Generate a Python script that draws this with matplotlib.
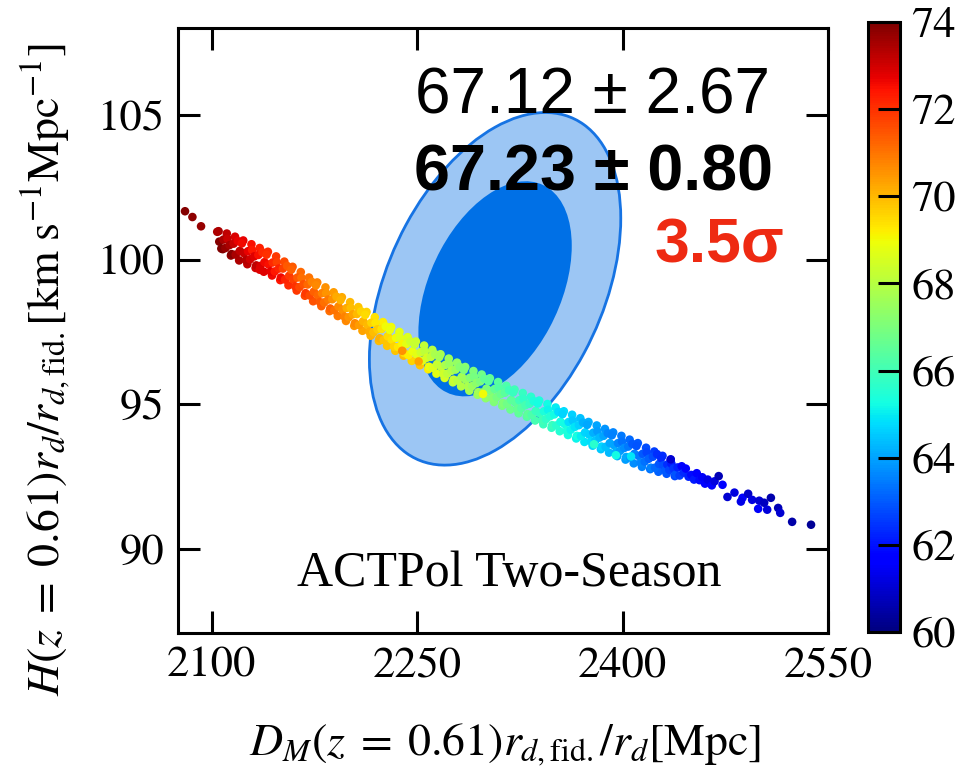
import numpy as np
import matplotlib
matplotlib.use("Agg")
import matplotlib.pyplot as plt
from matplotlib.patches import Ellipse

plt.rcParams['mathtext.fontset'] = 'stix'
plt.rcParams['font.family'] = ['STIXGeneral', 'DejaVu Serif']

# ---------------- data ----------------
# scatter samples, band core: D_M r_fid/r_d, H r_d/r_fid, H0 colour
dm = [2080.5, 2085.9, 2092.2,
      2104.0, 2105.5, 2107.0, 2108.5, 2110.0, 2111.5, 2113.0, 2114.5, 2116.0, 2117.5, 2119.0, 2120.5,
      2122.0, 2123.5, 2125.0, 2126.5, 2128.0, 2129.5, 2131.0, 2132.5, 2134.0, 2135.5, 2137.0, 2138.5,
      2140.0, 2141.5, 2143.0, 2144.5, 2146.0, 2147.5, 2149.0, 2150.5, 2152.0, 2153.5, 2155.0, 2156.5,
      2158.0, 2159.5, 2161.0, 2162.5, 2164.0, 2165.5, 2167.0, 2168.5, 2170.0, 2171.5, 2173.0, 2174.5,
      2176.0, 2177.5, 2179.0, 2180.5, 2182.0, 2183.5, 2185.0, 2186.5, 2188.0, 2189.5, 2191.0, 2192.5,
      2194.0, 2195.5, 2197.0, 2198.5, 2200.0, 2201.5, 2203.0, 2204.5, 2206.0, 2207.5, 2209.0, 2210.5,
      2212.0, 2213.5, 2215.0, 2216.5, 2218.0, 2219.5, 2221.0, 2222.5, 2224.0, 2225.5, 2227.0, 2228.5,
      2230.0, 2231.5, 2233.0, 2234.5, 2236.0, 2237.5, 2239.0, 2240.5, 2242.0, 2243.5, 2245.0, 2246.5,
      2248.0, 2249.5, 2251.0, 2252.5, 2254.0, 2255.5, 2257.0, 2258.5, 2260.0, 2261.5, 2263.0, 2264.5,
      2266.0, 2267.5, 2269.0, 2270.5, 2272.0, 2273.5, 2275.0, 2276.5, 2278.0, 2279.5, 2281.0, 2282.5,
      2284.0, 2285.5, 2287.0, 2288.5, 2290.0, 2291.5, 2293.0, 2294.5, 2296.0, 2297.5, 2299.0, 2300.5,
      2302.0, 2303.5, 2305.0, 2306.5, 2308.0, 2309.5, 2311.0, 2312.5, 2314.0, 2315.5, 2317.0, 2318.5,
      2320.0, 2321.5, 2323.0, 2324.5, 2326.0, 2327.5, 2329.0, 2330.5, 2332.0, 2333.5, 2335.0, 2336.5,
      2338.0, 2339.5, 2341.0, 2342.5, 2344.0, 2345.5, 2347.0, 2348.5, 2350.0, 2351.5, 2353.0, 2354.5,
      2356.0, 2357.5, 2359.0, 2360.5, 2362.0, 2363.5, 2365.0, 2366.5, 2368.0, 2369.5, 2371.0, 2372.5,
      2374.0, 2375.5, 2377.0, 2378.5, 2380.0, 2381.5, 2383.0, 2384.5, 2386.0, 2387.5, 2389.0, 2390.5,
      2392.0, 2393.5, 2395.0, 2396.5, 2398.0, 2399.5, 2401.0, 2402.5, 2404.0, 2405.5, 2407.0, 2408.5,
      2410.0, 2411.5, 2413.0, 2414.5, 2416.0, 2417.5, 2419.0, 2420.5, 2422.0, 2423.5, 2425.0, 2426.5,
      2428.0, 2429.5, 2431.0, 2432.5, 2434.0, 2435.5, 2437.0, 2438.5, 2440.0, 2441.5, 2443.0, 2444.5,
      2446.0, 2448.0, 2450.0, 2452.0, 2454.0, 2456.0, 2458.0, 2460.0, 2462.0, 2465.0, 2467.0,
      2135.0, 2239.0, 2251.0, 2298.0, 2379.0, 2395.0, 2406.0, 2435.0, 2470.0,
      2472.8, 2476.4, 2481.5, 2487.4, 2486.2, 2491.5, 2494.4, 2499.6, 2498.8, 2503.2, 2505.4, 2508.1,
      2513.4, 2514.9, 2523.6, 2537.4]
hz = [101.67, 101.47, 101.15,
      100.96, 100.62, 100.38, 100.69, 100.40, 100.72, 100.50, 100.19, 100.55, 100.17, 100.64, 100.30,
      100.56, 100.22, 99.98, 100.29, 100.01, 100.33, 100.11, 99.80, 100.16, 99.78, 100.25, 99.91,
      100.17, 99.83, 99.59, 99.90, 99.59, 99.91, 99.69, 99.38, 99.69, 99.31, 99.78, 99.44,
      99.65, 99.31, 99.07, 99.38, 99.05, 99.37, 99.15, 98.84, 99.14, 98.76, 99.23, 98.89,
      99.11, 98.77, 98.53, 98.84, 98.52, 98.84, 98.62, 98.31, 98.63, 98.25, 98.72, 98.38,
      98.60, 98.26, 98.02, 98.33, 98.01, 98.33, 98.11, 97.80, 98.12, 97.74, 98.21, 97.87,
      98.09, 97.75, 97.51, 97.82, 97.49, 97.81, 97.59, 97.28, 97.60, 97.22, 97.69, 97.35,
      97.57, 97.23, 96.99, 97.30, 96.98, 97.30, 97.08, 96.77, 97.08, 96.70, 97.17, 96.83,
      97.07, 96.73, 96.49, 96.80, 96.51, 96.83, 96.61, 96.30, 96.64, 96.26, 96.73, 96.39,
      96.63, 96.29, 96.05, 96.36, 96.06, 96.38, 96.16, 95.85, 96.20, 95.82, 96.29, 95.95,
      96.19, 95.85, 95.61, 95.92, 95.63, 95.95, 95.73, 95.42, 95.79, 95.41, 95.88, 95.54,
      95.80, 95.46, 95.22, 95.53, 95.25, 95.57, 95.35, 95.04, 95.40, 95.02, 95.49, 95.15,
      95.41, 95.07, 94.83, 95.14, 94.87, 95.19, 94.97, 94.66, 95.02, 94.64, 95.11, 94.77,
      95.03, 94.69, 94.45, 94.76, 94.49, 94.81, 94.59, 94.28, 94.65, 94.27, 94.74, 94.40,
      94.66, 94.32, 94.08, 94.39, 94.12, 94.44, 94.22, 93.91, 94.28, 93.90, 94.37, 94.03,
      94.29, 93.95, 93.71, 94.02, 93.75, 94.07, 93.85, 93.54, 93.91, 93.53, 94.00, 93.66,
      93.93, 93.59, 93.35, 93.66, 93.39, 93.71, 93.49, 93.18, 93.54, 93.16, 93.63, 93.29,
      93.56, 93.22, 92.98, 93.29, 93.02, 93.34, 93.12, 92.81, 93.19, 92.81, 93.28, 92.94,
      93.14, 92.89, 92.71, 92.92, 92.73, 92.95, 92.78, 92.57, 92.82, 92.54, 92.86, 92.64,
      92.78, 92.50, 92.56, 92.40, 92.62, 92.38, 92.48, 92.26, 92.40, 92.20, 92.34,
      99.65, 96.85, 96.48, 95.36, 93.62, 93.24, 93.20, 93.10, 92.52,
      92.22, 91.80, 91.95, 91.77, 91.64, 91.91, 91.70, 91.67, 91.39, 91.60, 91.36, 91.77,
      91.42, 91.25, 90.94, 90.84]
h0 = [73.9, 73.8, 73.7,
      73.4, 73.9, 74.0, 73.5, 73.7, 73.1, 73.5, 73.9, 73.1, 73.5, 72.7, 73.2,
      72.6, 73.1, 73.3, 72.7, 73.0, 72.4, 72.8, 73.2, 72.5, 72.9, 72.1, 72.6,
      72.0, 72.5, 72.7, 72.1, 72.4, 71.8, 72.2, 72.6, 71.8, 72.2, 71.4, 71.9,
      71.3, 71.8, 72.0, 71.4, 71.7, 71.1, 71.5, 71.9, 71.2, 71.6, 70.8, 71.3,
      70.7, 71.2, 71.4, 70.8, 71.1, 70.5, 70.9, 71.3, 70.6, 71.0, 70.2, 70.7,
      70.1, 70.6, 70.8, 70.2, 70.5, 69.9, 70.3, 70.7, 70.0, 70.4, 69.6, 70.1,
      69.5, 70.0, 70.2, 69.6, 69.9, 69.3, 69.7, 70.1, 69.4, 69.8, 69.0, 69.5,
      68.9, 69.4, 69.6, 69.0, 69.3, 68.7, 69.1, 69.5, 68.8, 69.2, 68.4, 68.9,
      68.3, 68.8, 69.0, 68.4, 68.7, 68.1, 68.5, 68.9, 68.2, 68.6, 67.8, 68.3,
      67.7, 68.2, 68.4, 67.8, 68.1, 67.5, 67.9, 68.3, 67.6, 68.0, 67.2, 67.7,
      67.1, 67.6, 67.8, 67.2, 67.5, 66.9, 67.3, 67.7, 67.0, 67.4, 66.6, 67.1,
      66.5, 67.0, 67.2, 66.6, 66.9, 66.3, 66.7, 67.1, 66.4, 66.8, 66.0, 66.5,
      65.9, 66.4, 66.6, 66.0, 66.3, 65.7, 66.1, 66.5, 65.8, 66.2, 65.4, 65.9,
      65.3, 65.8, 66.0, 65.4, 65.7, 65.1, 65.5, 65.9, 65.2, 65.6, 64.8, 65.3,
      64.7, 65.2, 65.4, 64.8, 65.1, 64.5, 64.9, 65.3, 64.6, 65.0, 64.2, 64.7,
      64.1, 64.6, 64.8, 64.2, 64.5, 63.9, 64.3, 64.7, 64.0, 64.4, 63.6, 64.1,
      63.5, 64.0, 64.2, 63.6, 63.9, 63.3, 63.7, 64.1, 63.4, 63.8, 63.0, 63.5,
      62.9, 63.4, 63.6, 63.0, 63.3, 62.7, 63.1, 63.5, 62.8, 63.2, 62.4, 62.9,
      62.3, 62.8, 63.0, 62.4, 62.7, 62.1, 62.5, 62.9, 62.2, 62.6, 61.8, 62.3,
      61.7, 62.2, 61.9, 62.1, 61.6, 61.9, 61.5, 61.8, 61.3, 61.6, 61.2,
      72.8, 70.6, 70.3, 69.0, 65.6, 65.2, 64.9, 61.0, 60.7,
      61.6, 61.0, 61.2, 61.6, 61.3, 60.9, 61.2, 61.0, 61.5, 60.8, 61.1, 60.6,
      60.7, 61.0, 60.5, 60.3]

# scatter samples on the upper and lower edges of the band
dm_edge = [2105, 2108, 2111, 2114, 2117, 2120, 2123, 2126, 2129, 2132, 2135, 2138, 2141, 2144,
           2147, 2150, 2153, 2156, 2159, 2162, 2165, 2168, 2171, 2174, 2177, 2180, 2183, 2186,
           2189, 2192, 2195, 2198, 2201, 2204, 2207, 2210, 2213, 2216, 2219, 2222, 2225, 2228,
           2231, 2234, 2237, 2240, 2243, 2246, 2249, 2252, 2255, 2258, 2261, 2264, 2267, 2270,
           2273, 2276, 2279, 2282, 2285, 2288, 2291, 2294, 2297, 2300, 2303, 2306, 2309, 2312,
           2315, 2318, 2321, 2324, 2327, 2330, 2333, 2336, 2339, 2342, 2345, 2348, 2351, 2354,
           2357, 2360, 2363, 2366, 2369, 2372, 2375, 2378, 2381, 2384, 2387, 2390, 2393, 2396,
           2399, 2402, 2405, 2408, 2411, 2414, 2417, 2420, 2423, 2426, 2429, 2432, 2435, 2438]
hz_edge = [100.98, 100.36, 100.90, 100.14, 100.79, 99.97, 100.66, 99.84, 100.53, 99.71,
           100.40, 99.58, 100.27, 99.45, 100.11, 99.29, 99.93, 99.11, 99.75, 98.93,
           99.57, 98.75, 99.38, 98.56, 99.21, 98.39, 99.04, 98.22, 98.87, 98.05,
           98.70, 97.88, 98.53, 97.71, 98.36, 97.54, 98.19, 97.37, 98.01, 97.19,
           97.84, 97.02, 97.67, 96.85, 97.50, 96.68, 97.32, 96.50, 97.17, 96.35,
           97.03, 96.21, 96.88, 96.06, 96.73, 95.91, 96.58, 95.76, 96.44, 95.62,
           96.29, 95.47, 96.15, 95.33, 96.03, 95.21, 95.90, 95.08, 95.77, 94.95,
           95.64, 94.82, 95.51, 94.69, 95.39, 94.57, 95.26, 94.44, 95.13, 94.31,
           95.01, 94.19, 94.89, 94.07, 94.76, 93.94, 94.64, 93.82, 94.52, 93.70,
           94.39, 93.57, 94.27, 93.45, 94.15, 93.33, 94.03, 93.21, 93.91, 93.09,
           93.78, 92.96, 93.66, 92.84, 93.50, 92.76, 93.37, 92.67, 93.22, 92.60,
           93.08, 92.52]
h0_edge = [73.5, 74.0, 73.2, 73.7, 72.9, 73.4, 72.7, 73.2, 72.5, 73.0, 72.3, 72.8, 72.1, 72.6,
           71.9, 72.4, 71.6, 72.1, 71.4, 71.9, 71.2, 71.7, 71.0, 71.5, 70.8, 71.3, 70.6, 71.1,
           70.4, 70.9, 70.2, 70.7, 70.0, 70.5, 69.8, 70.3, 69.6, 70.1, 69.4, 69.9, 69.2, 69.8,
           69.0, 69.8, 68.8, 70.0, 68.6, 69.6, 68.4, 69.8, 68.2, 69.2, 68.0, 68.8, 67.8, 68.5,
           67.6, 68.1, 67.4, 67.9, 67.2, 67.7, 67.0, 67.5, 66.8, 67.3, 66.6, 67.1, 66.4, 66.9,
           66.2, 66.7, 66.0, 66.5, 65.8, 66.3, 65.6, 66.1, 65.4, 65.9, 65.2, 65.7, 65.0, 65.5,
           64.8, 65.3, 64.6, 65.1, 64.4, 64.9, 64.2, 64.7, 64.0, 64.5, 63.8, 64.3, 63.6, 64.1,
           63.4, 63.9, 63.2, 63.7, 63.0, 63.5, 62.8, 63.3, 62.6, 63.1, 62.4, 62.9, 62.2, 62.7]

# Fisher-ellipse parameters (BAO constraint)
ell_center = (2306.8, 98.99)
ell_sigma = (36.9, 2.45)
ell_rho = 0.40
ell_dchi2 = [6.18, 2.30]          # 95% and 68% contours
ell_fill = ['#9cc6f4', '#0070e6']

text_lines = ['67.12 ± 2.67', '67.23 ± 0.80', '3.5σ']
cbar_ticks = [60, 62, 64, 66, 68, 70, 72, 74]
x_ticks = [2100, 2250, 2400, 2550]
y_ticks = [90, 95, 100, 105]

# ---------------- figure ----------------
W, H = 968, 770
fig = plt.figure(figsize=(W / 100, H / 100), dpi=100)
ax = fig.add_axes([178.3 / W, 1 - 633 / H, 650 / W, 605 / H])
cax = fig.add_axes([868 / W, 1 - 632 / H, 32 / W, 610 / H])

# ellipses
sx, sy = ell_sigma
cov = np.array([[sx ** 2, ell_rho * sx * sy], [ell_rho * sx * sy, sy ** 2]])
vals, vecs = np.linalg.eigh(cov)
order = vals.argsort()[::-1]
vals, vecs = vals[order], vecs[:, order]
angle = np.degrees(np.arctan2(vecs[1, 0], vecs[0, 0]))
for d2, fc in zip(ell_dchi2, ell_fill):
    w = 2 * np.sqrt(d2 * vals[0])
    h = 2 * np.sqrt(d2 * vals[1])
    ax.add_patch(Ellipse(ell_center, w, h, angle=angle, facecolor=fc,
                         edgecolor='none', zorder=1))
d2 = ell_dchi2[0]
ax.add_patch(Ellipse(ell_center, 2 * np.sqrt(d2 * vals[0]), 2 * np.sqrt(d2 * vals[1]),
                     angle=angle, facecolor='none', edgecolor='#1673e3', lw=2.0, zorder=2))

ax.scatter(dm_edge, hz_edge, c=h0_edge, cmap='jet', vmin=60, vmax=74, s=38,
           linewidths=0, zorder=3)
sc = ax.scatter(dm, hz, c=h0, cmap='jet', vmin=60, vmax=74, s=38,
                linewidths=0, zorder=3)

ax.set_xlim(2075.6, 2550)
ax.set_ylim(87.1, 108.0)
ax.set_xticks(x_ticks)
ax.set_yticks(y_ticks)
ax.tick_params(direction='in', length=16, width=2.2, labelsize=32, pad=10,
               top=True, right=True)
for sp in ax.spines.values():
    sp.set_linewidth(2.2)

# texts
sans = ['Liberation Sans', 'DejaVu Sans']
ax.text(0.910, 0.8595, text_lines[0], transform=ax.transAxes, ha='right', va='baseline',
        fontsize=46, family=sans, color='black', zorder=5)
ax.text(0.915, 0.732, text_lines[1], transform=ax.transAxes, ha='right', va='baseline',
        fontsize=46.5, fontweight='bold', family=sans, color='black', zorder=5)
ax.text(0.933, 0.6116, text_lines[2], transform=ax.transAxes, ha='right', va='baseline',
        fontsize=45, fontweight='bold', family=sans, color='#ee2a12', zorder=5)
ax.text(0.509, 0.078, 'ACTPol Two-Season', transform=ax.transAxes, ha='center',
        va='baseline', fontsize=36, family=['Liberation Serif', 'DejaVu Serif'], zorder=5)

fig.text(505 / W, 1 - 745 / H,
         r'$D_M(z\;=\;0.61)r_{d,\mathrm{fid.}}/r_d[\mathrm{Mpc}]$',
         ha='center', va='center', fontsize=33)
fig.text(45 / W, 1 - 370 / H,
         r'$H(z\;=\;0.61)r_d/r_{d,\mathrm{fid.}}[\mathrm{km\ s^{-1}Mpc^{-1}}]$',
         ha='center', va='center', rotation=90, fontsize=33)

cb = fig.colorbar(sc, cax=cax, ticks=cbar_ticks)
cb.outline.set_linewidth(2.2)
cax.tick_params(direction='in', length=16, width=2.2, labelsize=32, pad=8)

fig.savefig('out.png', dpi=100)
